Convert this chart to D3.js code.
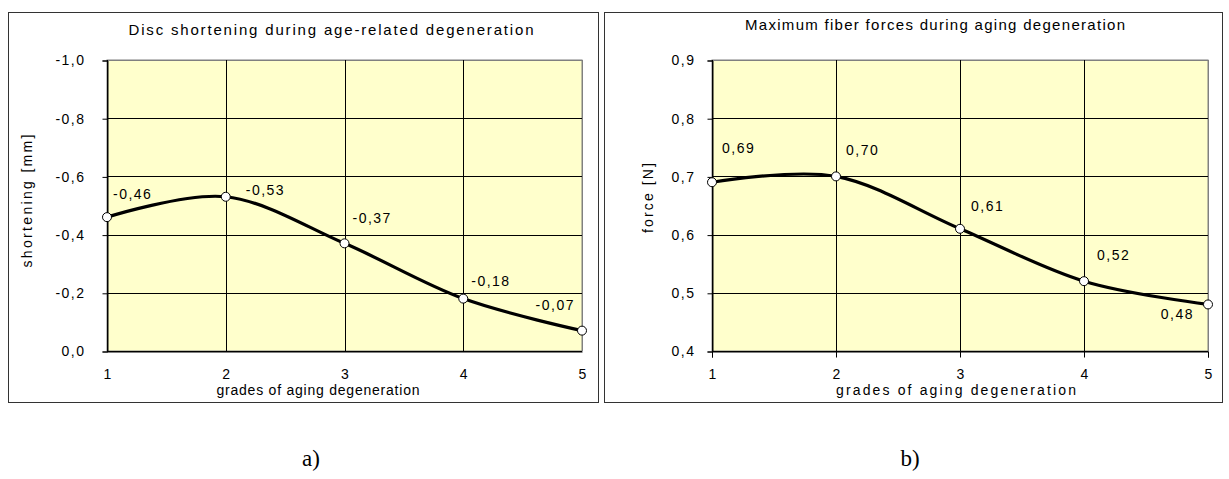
<!DOCTYPE html>
<head>
  <meta charset="utf-8">
  <script src="https://d3js.org/d3.v7.min.js"></script>
  <style>
    body { margin: 0; background: #fff; }
    text { font-family: "Liberation Sans", Arial, sans-serif; fill: #000; }
    .caption { font-family: "Liberation Serif", "Times New Roman", serif; font-size: 23px; }
  </style>
</head>

<body>
  <script>

    // data
    var grades = [1, 2, 3, 4, 5];
    var shortening = [-0.46, -0.53, -0.37, -0.18, -0.07];
    var shorteningTicks = [0, -0.2, -0.4, -0.6, -0.8, -1.0];
    var force = [0.69, 0.70, 0.61, 0.52, 0.48];
    var forceTicks = [0.4, 0.5, 0.6, 0.7, 0.8, 0.9];

    var svg = d3.select("body").append("svg")
      .attr("width", 1229)
      .attr("height", 479);

    var comma = function(f) { return function(v) { return d3.format(f)(v).replace(".", ",").replace("−", "-"); }; };

    var panels = [
      {
        box: [8, 12, 590, 390], plot: [107, 60, 475, 291],
        title: "Disc shortening during age-related degeneration", titleX: 331, titleY: 35, titleW: 405,
        ylabel: "shortening [mm]", ylabelX: 32, ylabelY: 201, ylabelW: 133,
        xlabel: "grades of aging degeneration", xlabelX: 318, xlabelY: 395, xlabelW: 203,
        values: shortening, ticks: shorteningTicks, domain: [0, -1],
        xTickMarks: false, yPad: 17,
        caption: "a)", captionX: 311,
        // label offsets from each point
        offs: [[6, -18], [20, -2], [8, -20], [8, -13], [-7, -21]],
        anchors: ["start", "start", "start", "start", "end"]
      },
      {
        box: [604, 12, 618, 390], plot: [712, 60, 496, 291],
        title: "Maximum fiber forces during aging degeneration", titleX: 935, titleY: 30, titleW: 380,
        ylabel: "force [N]", ylabelX: 653, ylabelY: 198, ylabelW: 70,
        xlabel: "grades of aging degeneration", xlabelX: 956, xlabelY: 395, xlabelW: 240,
        values: force, ticks: forceTicks, domain: [0.4, 0.9],
        xTickMarks: true, yPad: 12,
        caption: "b)", captionX: 910,
        offs: [[10, -29], [10, -21], [11, -18], [13, -21], [-14, 15]],
        anchors: ["start", "start", "start", "start", "end"]
      }
    ];

    panels.forEach(function(p) {
      var g = svg.append("g");
      var px = p.plot[0], py = p.plot[1], pw = p.plot[2], ph = p.plot[3];

      g.append("rect")
        .attr("x", p.box[0] + 0.5).attr("y", p.box[1] + 0.5)
        .attr("width", p.box[2]).attr("height", p.box[3])
        .attr("fill", "#fff").attr("stroke", "#333").attr("stroke-width", 1);

      var x = d3.scaleLinear().domain([1, 5]).range([px, px + pw]);
      var y = d3.scaleLinear().domain(p.domain).range([py + ph, py]);

      g.append("rect")
        .attr("x", px).attr("y", py).attr("width", pw).attr("height", ph)
        .attr("fill", "#ffffcc").attr("stroke", "#808080").attr("stroke-width", 1);

      // grid
      g.selectAll(".hgrid").data(p.ticks).enter().append("line")
        .attr("x1", px).attr("x2", px + pw)
        .attr("y1", function(d) { return Math.round(y(d)) + 0.5; })
        .attr("y2", function(d) { return Math.round(y(d)) + 0.5; })
        .attr("stroke", function(d, i) { return i == p.ticks.length - 1 ? "#808080" : "#000"; });
      g.selectAll(".vgrid").data(grades).enter().append("line")
        .attr("x1", function(d) { return Math.round(x(d)) + 0.5; })
        .attr("x2", function(d) { return Math.round(x(d)) + 0.5; })
        .attr("y1", py).attr("y2", py + ph)
        .attr("stroke", function(d, i) { return i == grades.length - 1 ? "#808080" : "#000"; });

      // axes
      var ya = d3.axisLeft(y).tickValues(p.ticks).tickSize(5).tickPadding(p.yPad).tickFormat(comma(".1f"));
      g.append("g").attr("transform", "translate(" + (px + 0.5) + ",0.5)").call(ya)
        .call(function(a) { a.select(".domain").attr("stroke", "#000"); })
        .selectAll("text").style("font-size", "14px").style("letter-spacing", "1.5px");

      var xa = d3.axisBottom(x).tickValues(grades).tickSize(p.xTickMarks ? 6 : 0).tickPadding(p.xTickMarks ? 12 : 18)
        .tickFormat(d3.format("d"));
      g.append("g").attr("transform", "translate(0," + (py + ph + 0.5) + ")").call(xa)
        .call(function(a) { a.select(".domain").attr("stroke", "#000"); })
        .selectAll("text").style("font-size", "14px");

      // smoothed line
      var pts = grades.map(function(d, i) { return [d, p.values[i]]; });
      var line = d3.line()
        .x(function(d) { return x(d[0]); })
        .y(function(d) { return y(d[1]); })
        .curve(d3.curveCatmullRom.alpha(0));
      g.append("path").datum(pts).attr("d", line)
        .attr("fill", "none").attr("stroke", "#000").attr("stroke-width", 3.2);

      g.selectAll(".pt").data(pts).enter().append("circle")
        .attr("cx", function(d) { return x(d[0]); })
        .attr("cy", function(d) { return y(d[1]); })
        .attr("r", 4.5).attr("fill", "#fff").attr("stroke", "#000").attr("stroke-width", 1);

      g.selectAll(".lbl").data(pts).enter().append("text")
        .attr("x", function(d, i) { return x(d[0]) + p.offs[i][0]; })
        .attr("y", function(d, i) { return y(d[1]) + p.offs[i][1]; })
        .attr("text-anchor", function(d, i) { return p.anchors[i]; })
        .style("font-size", "14px").style("letter-spacing", "1.5px")
        .text(function(d) { return comma(".2f")(d[1]); });

      // titles
      g.append("text").attr("x", p.titleX).attr("y", p.titleY)
        .attr("text-anchor", "middle").style("font-size", "15px")
        .attr("textLength", p.titleW).attr("lengthAdjust", "spacing")
        .text(p.title);
      g.append("text").attr("x", p.xlabelX).attr("y", p.xlabelY)
        .attr("text-anchor", "middle").style("font-size", "14px")
        .attr("textLength", p.xlabelW).attr("lengthAdjust", "spacing")
        .text(p.xlabel);
      g.append("text")
        .attr("transform", "translate(" + p.ylabelX + "," + p.ylabelY + ") rotate(-90)")
        .attr("text-anchor", "middle").style("font-size", "14px")
        .attr("textLength", p.ylabelW).attr("lengthAdjust", "spacing")
        .text(p.ylabel);

      svg.append("text").attr("class", "caption")
        .attr("x", p.captionX).attr("y", 466).attr("text-anchor", "middle")
        .text(p.caption);
    });

  </script>
</body>
